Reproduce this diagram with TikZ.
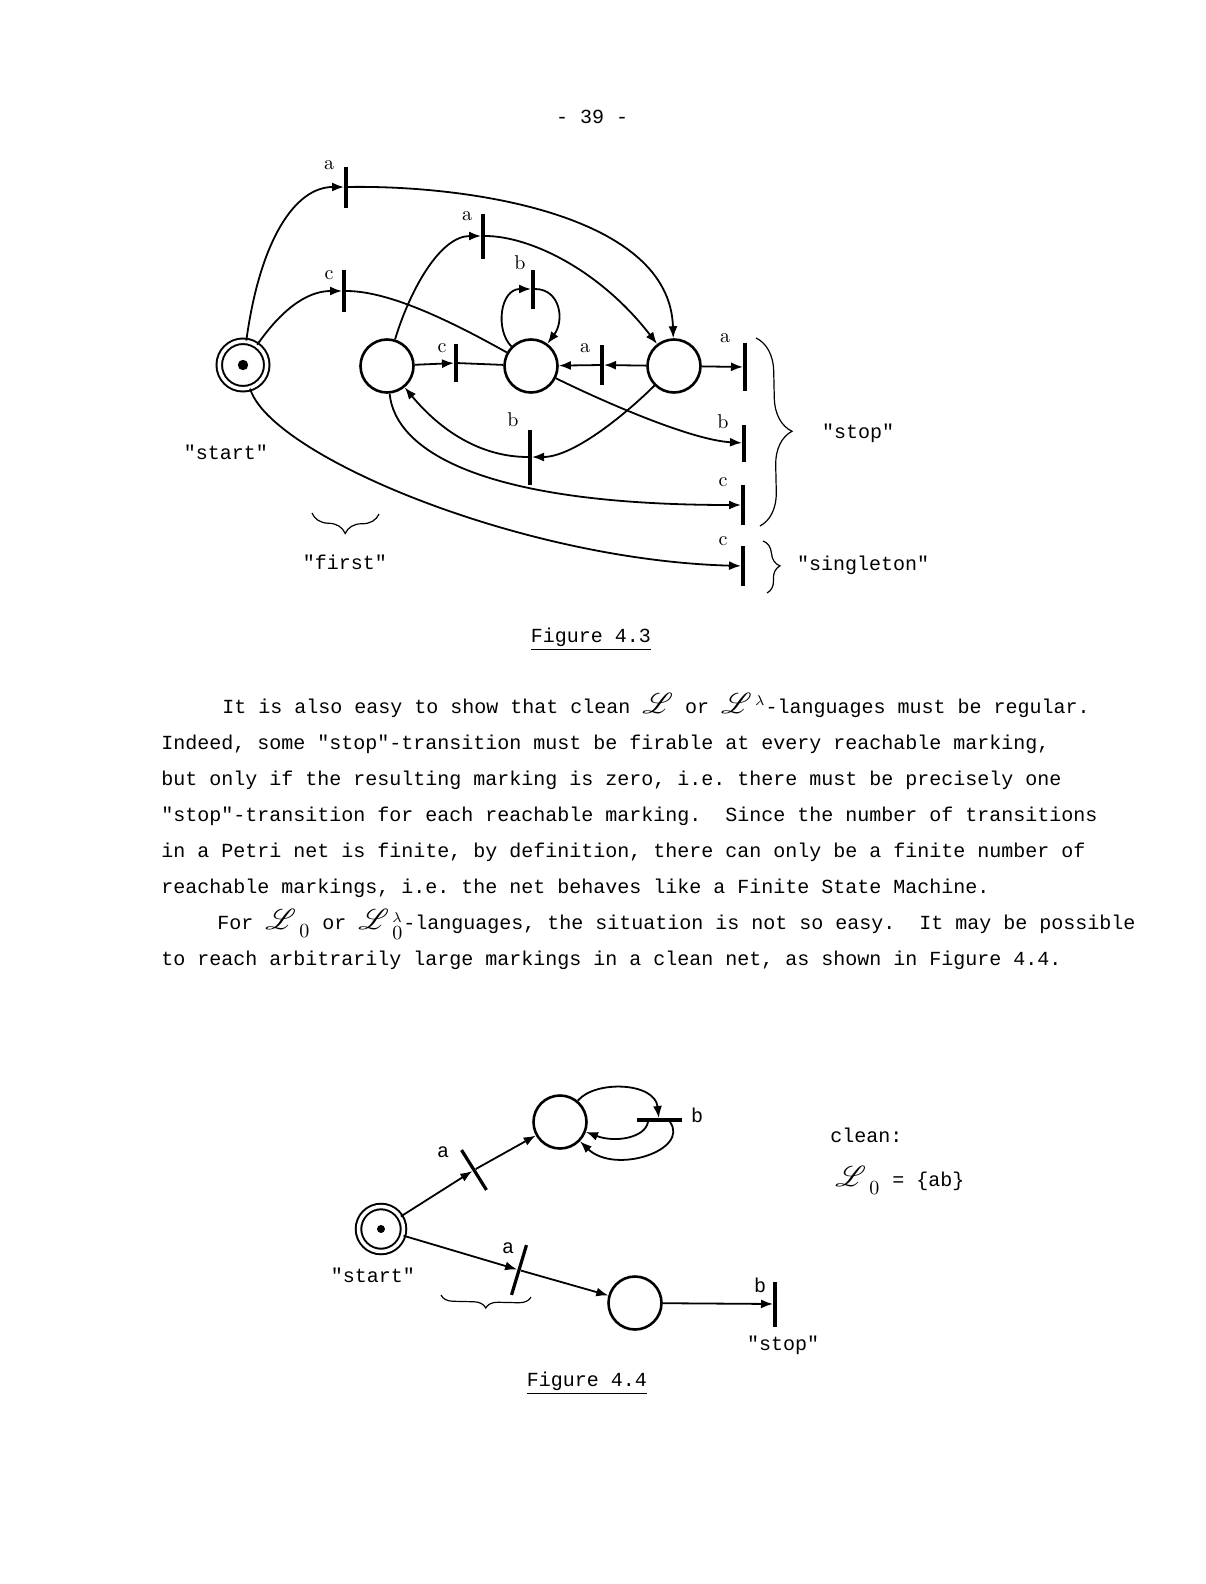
\documentclass[tikz,border=0pt]{standalone}
\usepackage{fontspec}
\usepackage{mathrsfs}
\usetikzlibrary{arrows.meta,decorations.pathreplacing}
\newfontfamily\tw{Liberation Mono}
\newcommand{\scrL}{\mbox{\fontsize{14}{14}\selectfont$\mathscr{L}$}}
\newcommand{\zsub}{\raisebox{-2.5pt}{\rmfamily 0}}
\frenchspacing
\tikzset{
  place/.style={circle, draw, line width=1.3pt, minimum size=26.5pt, inner sep=0pt},
  startplace/.style={circle, draw, line width=1pt, double, double distance=1.75pt, minimum size=#1, inner sep=0pt},
  trans/.style={fill, inner sep=0pt, minimum width=1.6pt, minimum height=#1},
  htrans/.style={fill, inner sep=0pt, minimum height=1.6pt, minimum width=#1},
  arr/.style={-{Latex[length=6pt,width=4.5pt]}, line width=0.9pt},
  edgeline/.style={line width=0.9pt},
  lab/.style={inner sep=0pt},
  twlab/.style={font=\tw, inner sep=0pt},
  brc/.style={decorate, decoration={brace, amplitude=#1}, line width=0.6pt},
}
\begin{document}
\begin{tikzpicture}[x=0.5pt, y=-0.5pt]
    \useasboundingbox[fill=white] (0,0) rectangle (1205,1584);
    \node[twlab, anchor=base] (pgnum) at (592,124) {- 39 -};

    % Figure 4.3, places:
    \node[startplace=23.75pt] (s) at (243,365) {};
    \fill (s.center) circle (2.6pt);
    \node[place] (p1) at (387,366) {};
    \node[place] (p2) at (531,366) {};
    \node[place] (p3) at (674,366) {};

    % transitions:
    \node[trans=20.5pt] (ta1) at (346,187) {};
    \node[trans=22.5pt] (ta2) at (483,236) {};
    \node[trans=19.5pt] (tb1) at (533,289) {};
    \node[trans=21pt] (tc1) at (344,291) {};
    \node[trans=19pt] (tc2) at (456,363) {};
    \node[trans=20pt] (ta3) at (602,365) {};
    \node[trans=27.5pt] (tb2) at (530,457) {};
    \node[trans=24pt] (tsa) at (745,367) {};
    \node[trans=18.5pt] (tsb) at (744,443) {};
    \node[trans=20pt] (tsc) at (743,505) {};
    \node[trans=20pt] (tsg) at (743,566) {};

    \node[lab] (la1) at (329,165) {a};
    \node[lab] (la2) at (467,216) {a};
    \node[lab] (lb1) at (520,263) {b};
    \node[lab] (lc1) at (329,275) {c};
    \node[lab] (lc2) at (442,348) {c};
    \node[lab] (la3) at (585,348) {a};
    \node[lab] (lb2) at (513,420) {b};
    \node[lab] (lsa) at (725,338) {a};
    \node[lab] (lsb) at (723,422) {b};
    \node[lab] (lsc) at (723,482) {c};
    \node[lab] (lsg) at (723,541) {c};

    % arcs:
    \draw[arr] (s) .. controls (260,240) and (295,187) .. (ta1);
    \draw[arr] (ta1) .. controls (470,185) and (670,215) .. (p3);
    \draw[arr] (s) .. controls (285,305) and (310,291) .. (tc1);
    \draw[edgeline] (tc1) .. controls (385,291) and (440,315) .. (p2);
    \draw[arr] (p1) .. controls (410,290) and (440,236) .. (ta2);
    \draw[arr] (ta2) .. controls (530,236) and (600,270) .. (p3);
    \draw[arr] (p2) .. controls (495,330) and (500,289) .. (tb1);
    \draw[arr] (tb1) .. controls (560,289) and (565,320) .. (p2);
    \draw[arr] (p1) -- (tc2);
    \draw[edgeline] (tc2) -- (p2);
    \draw[arr] (p3) -- (ta3);
    \draw[arr] (ta3) -- (p2);
    \draw[arr] (p3) -- (tsa);
    \draw[arr] (p2) .. controls (600,400) and (690,440) .. (tsb);
    \draw[arr] (p3) .. controls (630,410) and (575,457) .. (tb2);
    \draw[arr] (tb2) .. controls (480,457) and (440,430) .. (p1);
    \draw[arr] (p1) .. controls (395,450) and (480,505) .. (tsc);
    \draw[arr] (s) .. controls (270,455) and (520,560) .. (tsg);

    % braces:
    \draw[brc=17pt] (756,338) -- (760,526);
    \node[twlab] (stop) at (858,433) {"stop"};
    \draw[brc=7.5pt] (763,541) -- (767,593);
    \node[twlab] (singl) at (863,565) {"singleton"};
    \draw[brc=10pt] (379,514) -- (312,513);
    \node[twlab] (first) at (345,562) {"first"};
    \node[twlab] (startlab) at (226,452) {"start"};

    \node[twlab, anchor=base] (cap1) at (591,642) {\underline{Figure 4.3}};

    % text:
    \node[twlab, anchor=base west] (l1) at (222,713) {It is also easy to show that clean \scrL{} or $\scrL\,^{\lambda}$-languages must be regular.};
    \node[twlab, anchor=base west] (l2) at (161,749.5) {Indeed, some "stop"-transition must be firable at every reachable marking,};
    \node[twlab, anchor=base west] (l3) at (161,785.5) {but only if the resulting marking is zero, i.e. there must be precisely one};
    \node[twlab, anchor=base west] (l4) at (161,821.5) {"stop"-transition for each reachable marking.\ \ Since the number of transitions};
    \node[twlab, anchor=base west] (l5) at (161,857.5) {in a Petri net is finite, by definition, there can only be a finite number of};
    \node[twlab, anchor=base west] (l6) at (161,893.5) {reachable markings, i.e. the net behaves like a Finite State Machine.};
    \node[twlab, anchor=base west] (l7) at (217,929.5) {For $\scrL\,_{\zsub}$ or $\scrL\,^{\lambda}_{\zsub}$-languages, the situation is not so easy.\ \ It may be possible};
    \node[twlab, anchor=base west] (l8) at (161,965.5) {to reach arbitrarily large markings in a clean net, as shown in Figure 4.4.};

    % Figure 4.4:
    \node[startplace=22.5pt] (s2) at (381,1229) {};
    \fill (s2.center) circle (2pt);
    \node[place] (pt) at (560,1122) {};
    \node[place] (pb) at (635,1303) {};
    \node[trans=23.5pt, rotate=32] (tA) at (474,1170) {};
    \node[trans=26pt, rotate=-16.7] (tB) at (519,1270) {};
    \node[htrans=22.5pt] (tC) at (659,1120) {};
    \node[trans=22.5pt] (tD) at (775,1304) {};

    \draw[arr] (s2) -- (tA);
    \draw[arr] (tA) -- (pt);
    \draw[arr] (s2) -- (tB);
    \draw[arr] (tB) -- (pb);
    \draw[arr] (pt) .. controls (595,1080) and (655,1082) .. (tC);
    \draw[arr] ([xshift=-5.5pt]tC.south) .. controls (645,1138) and (615,1143) .. (pt);
    \draw[arr] ([xshift=5.5pt]tC.south) .. controls (690,1150) and (615,1175) .. (pt);
    \draw[arr] (pb) -- (tD);

    \node[twlab] (lA) at (443,1152) {a};
    \node[twlab] (lB) at (508,1248) {a};
    \node[twlab] (lC) at (697,1115) {b};
    \node[twlab] (lD) at (760,1285) {b};
    \node[twlab] (start2) at (373,1275) {"start"};
    \node[twlab] (stop2) at (783,1345) {"stop"};
    \draw[brc=6pt] (531,1297) -- (441,1295);
    \node[twlab, anchor=base west] (clean) at (830,1142) {clean:};
    \node[twlab, anchor=base west] (lang) at (835,1186) {$\scrL\,_{\zsub}$ = \{ab\}};

    \node[twlab, anchor=base] (cap2) at (587,1386) {\underline{Figure 4.4}};
\end{tikzpicture}
\end{document}
